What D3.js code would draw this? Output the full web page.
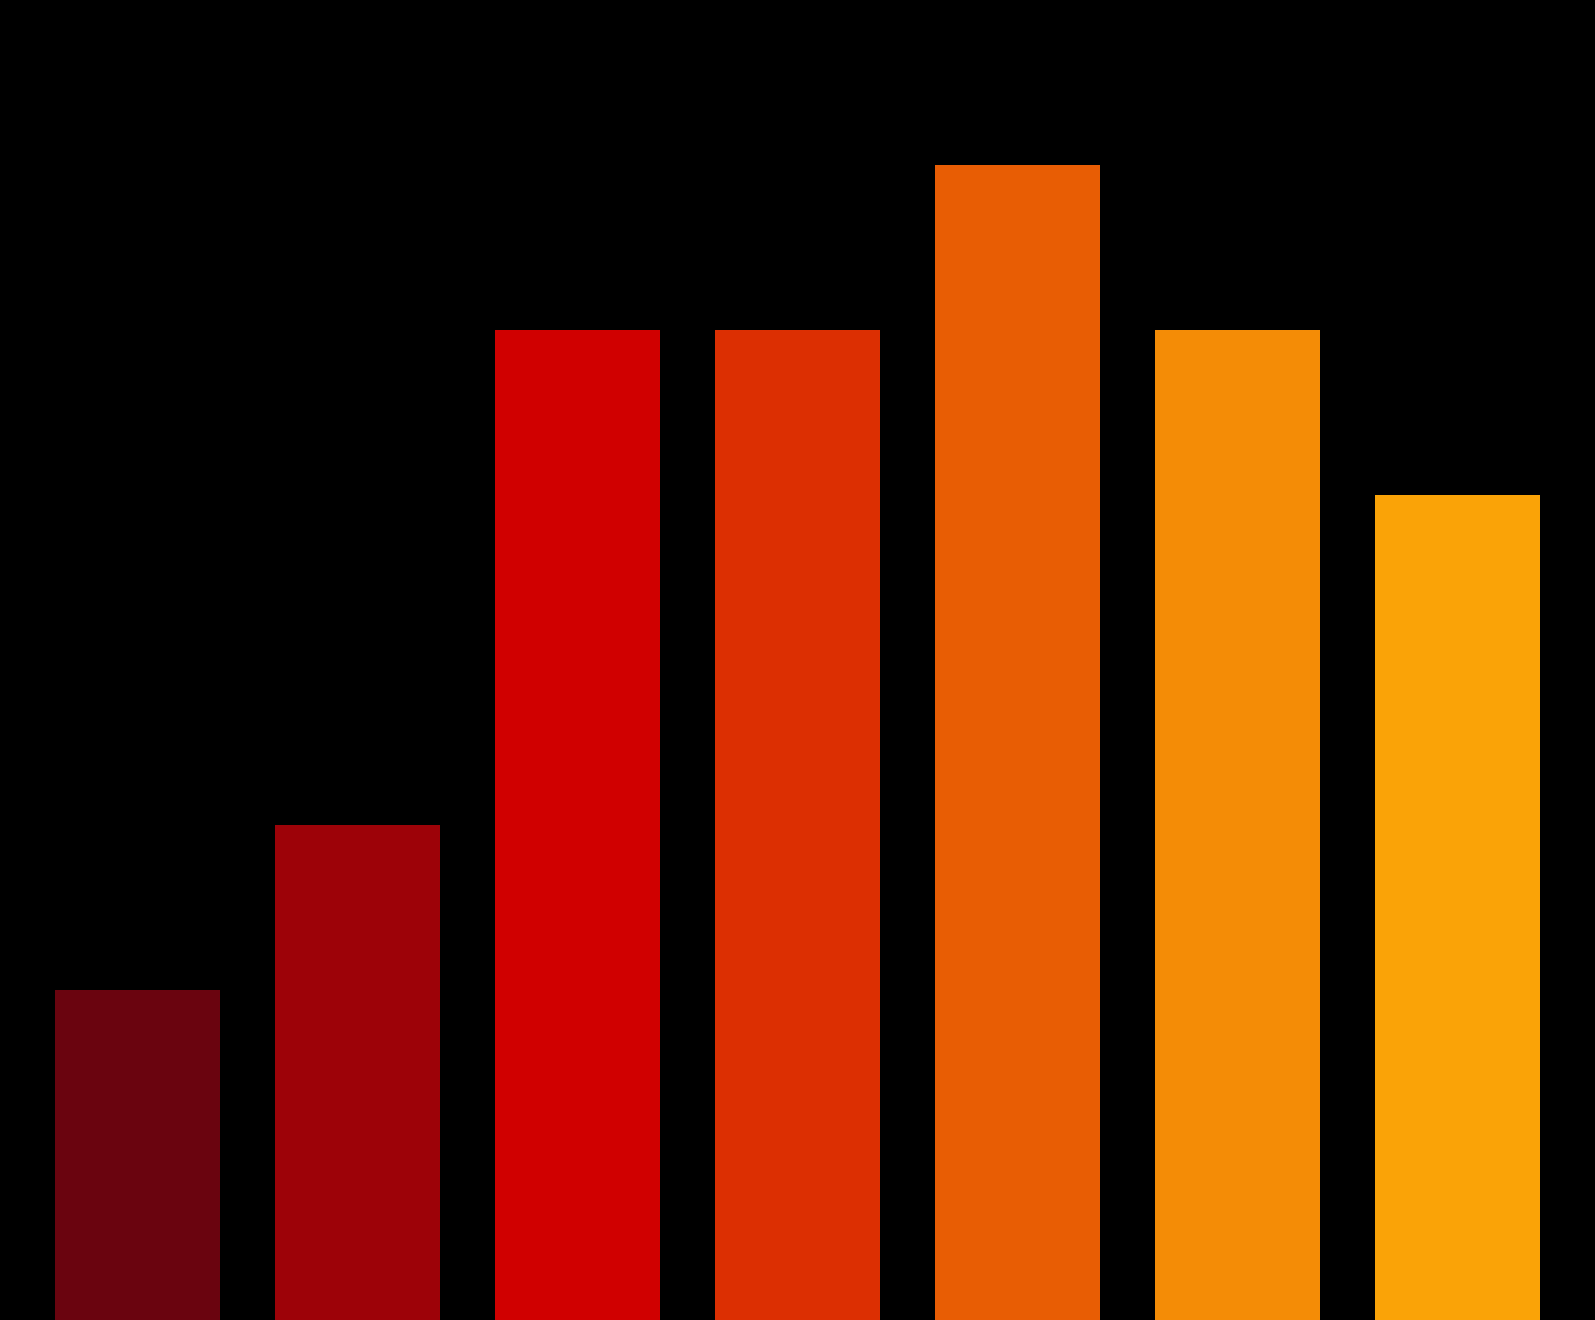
<!DOCTYPE html>
<html>
<head>
<meta charset="utf-8">
<script src="https://cdn.jsdelivr.net/npm/d3@7"></script>
<style>
  html, body { margin: 0; padding: 0; background: #000; overflow: hidden; }
  svg { display: block; }
</style>
</head>
<body>
<svg id="chart" width="1595" height="1320"></svg>
<script>
// Simple bar chart on black, warm colour ramp
const categories = ["A", "B", "C", "D", "E", "F", "G"];
const values = [2, 3, 6, 6, 7, 6, 5];
const colors = ["#6a040f", "#9d0208", "#d00000", "#dc2f02", "#e85d04", "#f48c06", "#faa307"];

(function() {
  const svg = d3.select("#chart");
  const width = +svg.attr("width");
  const height = +svg.attr("height");

  svg.append("rect")
    .attr("width", width)
    .attr("height", height)
    .attr("fill", "#000");

  const data = categories.map((c, i) => ({ cat: c, value: values[i], color: colors[i] }));

  const x = d3.scaleBand()
    .domain(categories)
    .range([0, width])
    .padding(0.25);

  const y = d3.scaleLinear()
    .domain([0, 8])
    .range([height, 0]);

  svg.selectAll("rect.bar")
    .data(data)
    .join("rect")
    .attr("class", "bar")
    .attr("x", d => x(d.cat))
    .attr("y", d => y(d.value))
    .attr("width", x.bandwidth())
    .attr("height", d => y(0) - y(d.value))
    .attr("fill", d => d.color);
})();
</script>
</body>
</html>
